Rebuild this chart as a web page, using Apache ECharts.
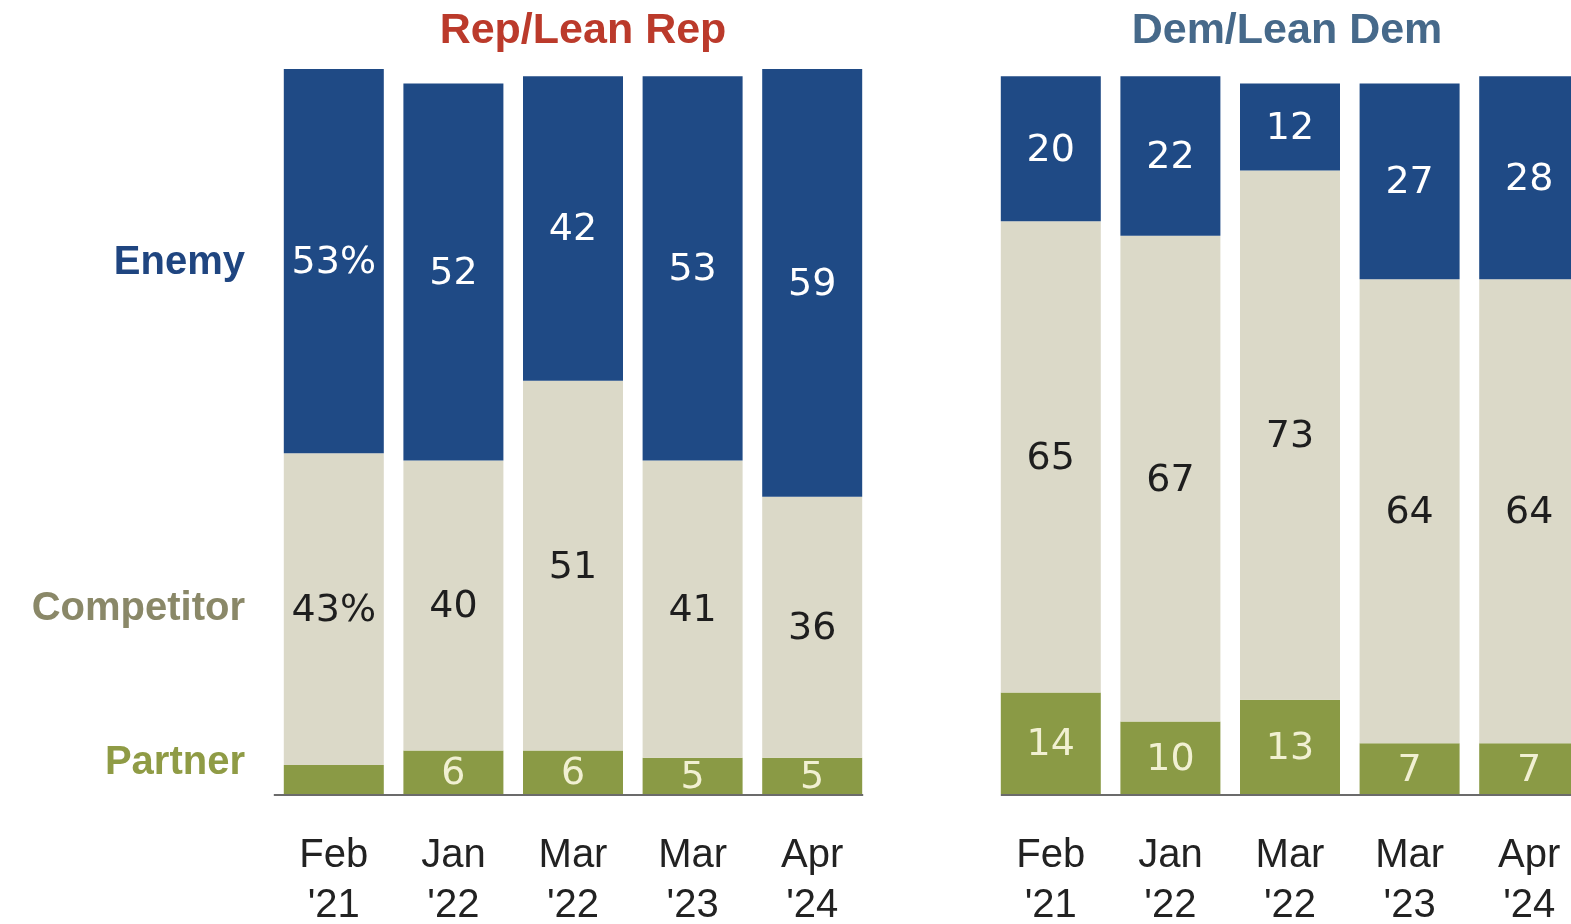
<!DOCTYPE html>
<html>
<head>
<meta charset="utf-8">
<script src="https://cdn.jsdelivr.net/npm/echarts@6/dist/echarts.min.js"></script>
<style>
  html, body { margin: 0; padding: 0; background: #ffffff; }
  #chart { width: 1571px; height: 924px; }
</style>
</head>
<body>
<div id="chart"></div>
<script>
// Survey waves shown under each party group
const waves = ["Feb\n'21", "Jan\n'22", "Mar\n'22", "Mar\n'23", "Apr\n'24"];

// Rep/Lean Rep shares (%)
const repPartner    = [4, 6, 6, 5, 5];
const repCompetitor = [43, 40, 51, 41, 36];
const repEnemy      = [53, 52, 42, 53, 59];

// Dem/Lean Dem shares (%)
const demPartner    = [14, 10, 13, 7, 7];
const demCompetitor = [65, 67, 73, 64, 64];
const demEnemy      = [20, 22, 12, 27, 28];

const groupTitles = ['Rep/Lean Rep', 'Dem/Lean Dem'];
const rowLabels = ['Enemy', 'Competitor', 'Partner'];

const COLORS = {
  enemy: '#1f4a85',
  competitor: '#dbd9c8',
  partner: '#8a9a45'
};
const FONT = '"Liberation Sans", Arial, sans-serif';
const NUM_FONT = '"DejaVu Sans", "Liberation Sans", sans-serif';
const BAR_W = 100;

const chart = echarts.init(document.getElementById('chart'), null, { renderer: 'canvas' });

function labelFor(color, withPct, hideSmall) {
  return {
    show: true,
    position: 'inside',
    offset: [0, 2],
    fontFamily: NUM_FONT,
    fontSize: 38,
    color: color,
    formatter: function (p) {
      if (hideSmall && p.value < 5) return '';
      return (withPct && p.dataIndex === 0) ? p.value + '%' : String(p.value);
    }
  };
}

function stackSeries(axisIdx, partner, competitor, enemy, withPct) {
  const common = {
    type: 'bar',
    xAxisIndex: axisIdx,
    yAxisIndex: axisIdx,
    stack: 'g' + axisIdx,
    barWidth: BAR_W,
    silent: true,
    animation: false
  };
  return [
    Object.assign({}, common, {
      name: 'Partner', data: partner,
      itemStyle: { color: COLORS.partner },
      label: labelFor('#f1f0d2', withPct, true)
    }),
    Object.assign({}, common, {
      name: 'Competitor', data: competitor,
      itemStyle: { color: COLORS.competitor },
      label: labelFor('#1e1e1e', withPct, false)
    }),
    Object.assign({}, common, {
      name: 'Enemy', data: enemy,
      itemStyle: { color: COLORS.enemy },
      label: labelFor('#ffffff', withPct, false)
    })
  ];
}

function catAxis(gridIndex) {
  return {
    type: 'category',
    gridIndex: gridIndex,
    data: waves,
    axisLine: { show: false },
    axisTick: { show: false },
    axisLabel: {
      fontFamily: FONT,
      fontSize: 40,
      lineHeight: 50,
      color: '#222222',
      margin: 37
    }
  };
}

function valAxis(gridIndex) {
  return {
    type: 'value',
    gridIndex: gridIndex,
    min: 0,
    max: 100,
    show: false,
    splitLine: { show: false }
  };
}

function titleText(text, x, color) {
  return {
    type: 'text', x: x, y: 31,
    style: {
      text: text, fontFamily: FONT, fontWeight: 'bold', fontSize: 43,
      fill: color, align: 'center', verticalAlign: 'middle'
    }
  };
}

function rowText(text, y, color) {
  return {
    type: 'text', x: 245, y: y,
    style: {
      text: text, fontFamily: FONT, fontWeight: 'bold', fontSize: 40,
      fill: color, align: 'right', verticalAlign: 'middle'
    }
  };
}

chart.setOption({
  backgroundColor: '#ffffff',
  animation: false,
  grid: [
    { left: 274, top: 69, width: 598, height: 725, outerBoundsMode: 'none', containLabel: false },
    { left: 991, top: 69, width: 598, height: 725, outerBoundsMode: 'none', containLabel: false }
  ],
  xAxis: [catAxis(0), catAxis(1)],
  yAxis: [valAxis(0), valAxis(1)],
  series: []
    .concat(stackSeries(0, repPartner, repCompetitor, repEnemy, true))
    .concat(stackSeries(1, demPartner, demCompetitor, demEnemy, false))
});

// Baselines under each group, spanning from the first to the last bar
function baseline(gridIdx, padLeft) {
  const first = chart.convertToPixel({ xAxisIndex: gridIdx, yAxisIndex: gridIdx }, [0, 0]);
  const last = chart.convertToPixel({ xAxisIndex: gridIdx, yAxisIndex: gridIdx }, [waves.length - 1, 0]);
  return {
    type: 'line', z: 10,
    shape: { x1: first[0] - BAR_W / 2 - padLeft, y1: first[1] + 1, x2: last[0] + BAR_W / 2 + 1, y2: last[1] + 1 },
    style: { stroke: '#6b6b6b', lineWidth: 2 }
  };
}

const repMid = chart.convertToPixel({ xAxisIndex: 0, yAxisIndex: 0 }, [2, 0])[0];
const demMid = chart.convertToPixel({ xAxisIndex: 1, yAxisIndex: 1 }, [2, 0])[0];

chart.setOption({
  graphic: [
    baseline(0, 10),
    baseline(1, 0),
    titleText(groupTitles[0], repMid + 10, '#bb3a2b'),
    titleText(groupTitles[1], demMid - 3, '#46698a'),
    rowText(rowLabels[0], 263, '#1f4580'),
    rowText(rowLabels[1], 609, '#8a8868'),
    rowText(rowLabels[2], 763, '#8f9b45')
  ]
});
</script>
</body>
</html>
